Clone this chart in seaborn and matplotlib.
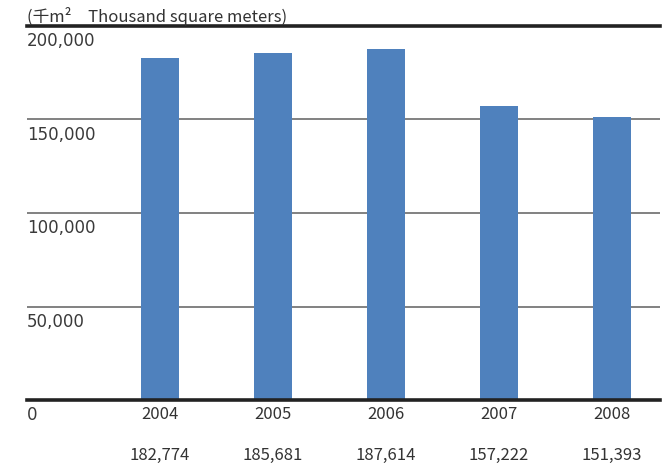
import seaborn as sns
import matplotlib.pyplot as plt
import matplotlib.transforms as mtransforms

# Data
years = ['2004', '2005', '2006', '2007', '2008']
floor_area = [182774, 185681, 187614, 157222, 151393]
y_ticks = [0, 50000, 100000, 150000, 200000]
y_labels = ['0', '50,000', '100,000', '150,000', '200,000']
unit_label = '(千m²\u3000Thousand square meters)'

sns.set_theme(style='white')
plt.rcParams['font.family'] = ['Noto Sans CJK JP', 'DejaVu Sans']

fig = plt.figure(figsize=(6.7, 4.65), dpi=100)
ax = fig.add_axes([27 / 670, 1 - 400 / 465, 633 / 670, 374 / 465])

sns.barplot(x=years, y=floor_area, color='#4F81BD', saturation=1, width=0.336,
            linewidth=0, ax=ax)

ax.set_ylim(0, 200000)
ax.set_xlim(-1.177, 4.425)
ax.set_yticks(y_ticks)
ax.set_yticklabels([])
ax.tick_params(axis='y', length=0)
ax.tick_params(axis='x', length=0, pad=4, labelsize=12, labelcolor='#333333')
ax.set_axisbelow(True)
ax.yaxis.grid(True, color='#777777', linewidth=1.3)

for s in ['left', 'right']:
    ax.spines[s].set_visible(False)
for s in ['top', 'bottom']:
    ax.spines[s].set_color('#222222')
    ax.spines[s].set_linewidth(2.6)

# y labels sitting under each grid line
for v, lab in zip(y_ticks, y_labels):
    ax.annotate(lab, xy=(0, v), xycoords=('axes fraction', 'data'),
                xytext=(0, -4.5), textcoords='offset points',
                ha='left', va='top', fontsize=12, color='#3a3a3a',
                family='DejaVu Sans')

# value row under the years
trans = mtransforms.blended_transform_factory(ax.transData, ax.transAxes)
for i, v in enumerate(floor_area):
    ax.text(i, -0.147, f'{v:,}', transform=trans, ha='center', va='center',
            fontsize=12, color='#333333')

fig.text(27 / 670, 1 - 17 / 465, unit_label, ha='left', va='center',
         fontsize=12, color='#333333')

ax.set_xlabel('')
ax.set_ylabel('')
fig.savefig('out.png', dpi=100)
